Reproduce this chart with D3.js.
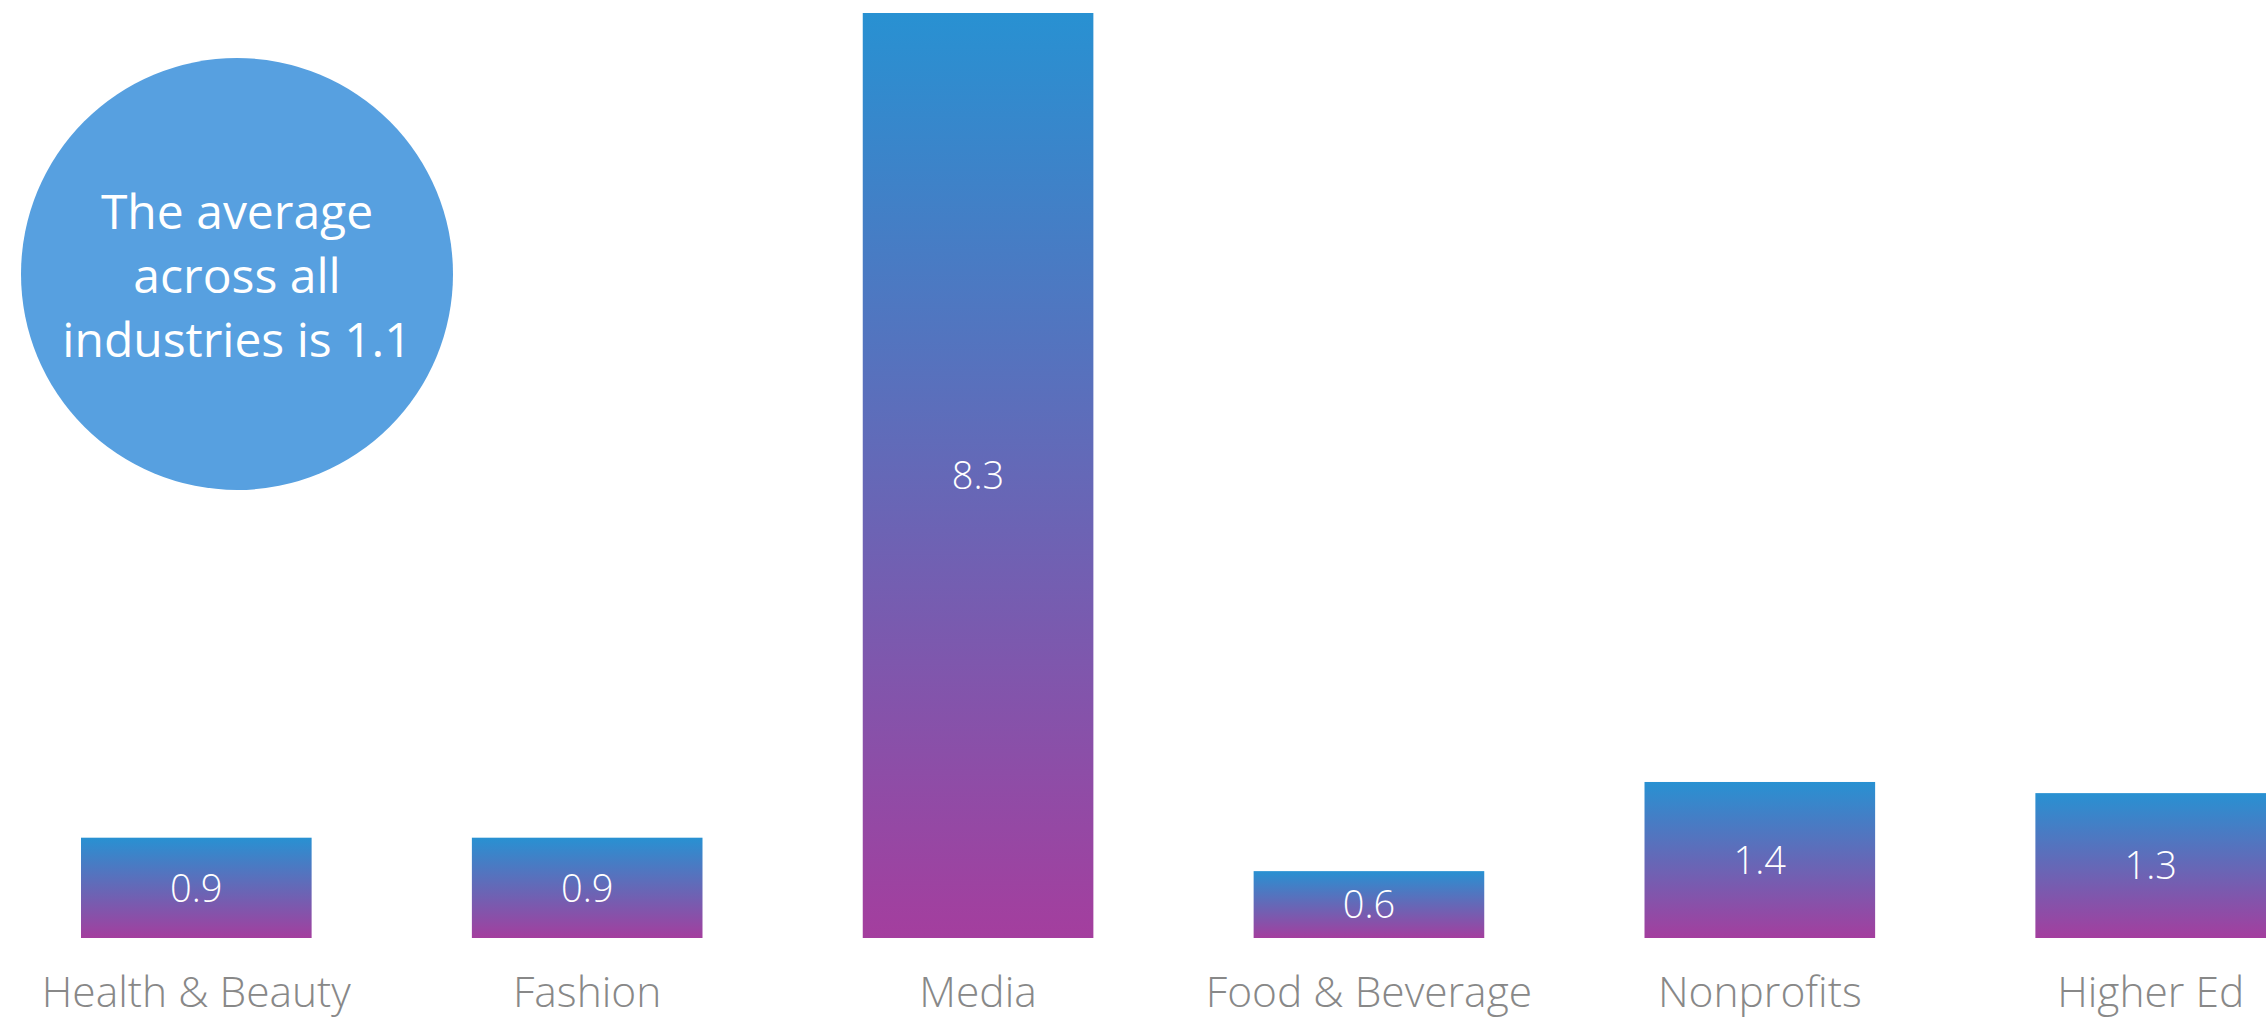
<!DOCTYPE html>
<html>
<head>
<meta charset="utf-8">
<script src="https://cdn.jsdelivr.net/npm/d3@7"></script>
<style>
  html, body { margin: 0; padding: 0; background: #ffffff; }
  svg { display: block; }
</style>
</head>
<body>
<svg id="chart" width="2266" height="1019"></svg>
<script>
const categories = ["Health & Beauty", "Fashion", "Media", "Food & Beverage", "Nonprofits", "Higher Ed"];
const values = [0.9, 0.9, 8.3, 0.6, 1.4, 1.3];
const valueLabels = ["0.9", "0.9", "8.3", "0.6", "1.4", "1.3"];
const calloutLines = ["The average", "across all", "industries is 1.1"];

const svg = d3.select("#chart");
const baseline = 938;
const topY = 13;

const x = d3.scaleBand().domain(categories).range([81, 2266]).paddingInner(0.41).paddingOuter(0);
const y = d3.scaleLinear().domain([0, d3.max(values)]).range([baseline, topY]);

const defs = svg.append("defs");
const grad = defs.append("linearGradient").attr("id", "barGrad")
  .attr("x1", 0).attr("y1", 0).attr("x2", 0).attr("y2", 1);
grad.append("stop").attr("offset", "0%").attr("stop-color", "#2891D2");
grad.append("stop").attr("offset", "50%").attr("stop-color", "#6568B7");
grad.append("stop").attr("offset", "100%").attr("stop-color", "#A43E9E");

const data = categories.map((c, i) => ({ c, v: values[i], t: valueLabels[i] }));

svg.append("g").selectAll("rect").data(data).join("rect")
  .attr("x", d => x(d.c))
  .attr("y", d => y(d.v))
  .attr("width", x.bandwidth())
  .attr("height", d => baseline - y(d.v))
  .attr("fill", "url(#barGrad)");

svg.append("g").selectAll("text").data(data).join("text")
  .attr("x", d => x(d.c) + x.bandwidth() / 2)
  .attr("y", d => (y(d.v) + baseline) / 2)
  .attr("dy", "0.36em")
  .attr("text-anchor", "middle")
  .attr("fill", "#ffffff")
  .style("font-family", "'Open Sans', sans-serif")
  .style("font-weight", 300)
  .style("font-size", "38px")
  .text(d => d.t);

// category axis
const xAxis = d3.axisBottom(x).tickSize(0).tickPadding(0);
const gx = svg.append("g").attr("transform", `translate(0, ${baseline})`).call(xAxis);
gx.select(".domain").remove();
gx.selectAll("text")
  .attr("y", 69)
  .attr("dy", 0)
  .attr("fill", "#888888")
  .style("font-family", "'Open Sans', sans-serif")
  .style("font-weight", 300)
  .style("font-size", "42.5px");

// callout circle
const cg = svg.append("g").attr("transform", "translate(237, 274)");
cg.append("circle").attr("r", 216).attr("fill", "#57A0E0");
cg.selectAll("text").data(calloutLines).join("text")
  .attr("x", 0)
  .attr("y", (d, i) => -45 + i * 64)
  .attr("text-anchor", "middle")
  .attr("fill", "#ffffff")
  .style("font-family", "'Open Sans', sans-serif")
  .style("font-size", "48px")
  .text(d => d);
</script>
</body>
</html>
